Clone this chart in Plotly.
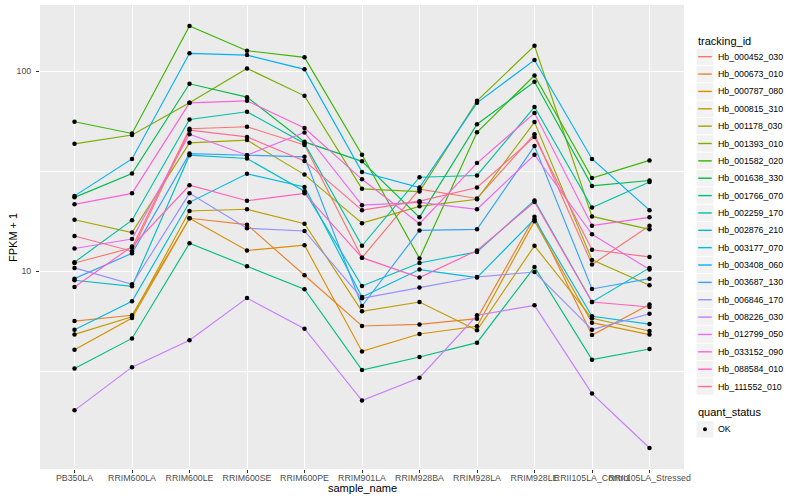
import plotly.graph_objects as go

samples = ["PB350LA", "RRIM600LA", "RRIM600LE", "RRIM600SE", "RRIM600PE", "RRIM901LA",
           "RRIM928BA", "RRIM928LA", "RRIM928LE", "RRII105LA_Control", "RRII105LA_Stressed"]

tracking_ids = ["Hb_000452_030", "Hb_000673_010", "Hb_000787_080", "Hb_000815_310",
                "Hb_001178_030", "Hb_001393_010", "Hb_001582_020", "Hb_001638_330",
                "Hb_001766_070", "Hb_002259_170", "Hb_002876_210", "Hb_003177_070",
                "Hb_003408_060", "Hb_003687_130", "Hb_006846_170", "Hb_008226_030",
                "Hb_012799_050", "Hb_033152_090", "Hb_088584_010", "Hb_111552_010"]

colors = ["#F8766D", "#EA8331", "#D89000", "#C09B00", "#A3A500", "#7CAE00", "#39B600",
          "#00BB4E", "#00BF7D", "#00C1A3", "#00BFC4", "#00BAE0", "#00B0F6", "#35A2FF",
          "#9590FF", "#C77CFF", "#E76BF3", "#FA62DB", "#FF62BC", "#FF6C91"]

# FPKM + 1 values, one list per tracking_id (order of samples)
Hb_000452_030 = [11.0, 13.1, 51.5, 52.7, 42.7, 11.7, 25.7, 23.1, 48.4, 10.8, 16.9]
Hb_000673_010 = [5.64, 6.03, 18.4, 17.1, 9.55, 5.33, 5.43, 5.80, 18.7, 4.80, 6.82]
Hb_000787_080 = [4.06, 5.84, 18.4, 12.7, 13.5, 3.98, 4.86, 5.31, 17.8, 5.54, 4.83]
Hb_000815_310 = [4.84, 5.93, 20.0, 20.4, 17.3, 6.31, 7.02, 5.07, 13.4, 5.82, 5.03]
Hb_001178_030 = [18.1, 15.6, 43.8, 45.2, 30.4, 17.4, 21.1, 22.9, 55.6, 11.4, 8.51]
Hb_001393_010 = [43.3, 47.9, 69.4, 103.1, 75.2, 25.8, 25.0, 71.0, 133.8, 18.8, 16.2]
Hb_001582_020 = [55.8, 48.8, 167.9, 126.4, 117.1, 38.2, 11.6, 49.5, 95.0, 29.2, 35.8]
Hb_001638_330 = [23.4, 30.8, 86.4, 74.1, 44.3, 35.4, 18.6, 54.3, 88.4, 26.7, 28.4]
Hb_001766_070 = [3.27, 4.62, 13.8, 10.6, 8.13, 3.21, 3.73, 4.40, 10.5, 3.62, 4.09]
Hb_002259_170 = [11.1, 18.0, 57.3, 62.6, 43.5, 13.4, 29.5, 30.1, 66.1, 20.8, 27.9]
Hb_002876_210 = [9.02, 8.41, 38.0, 36.6, 25.1, 8.44, 11.0, 12.5, 22.6, 7.02, 10.4]
Hb_003177_070 = [5.11, 7.08, 22.1, 30.7, 26.4, 7.44, 10.2, 9.30, 18.2, 5.96, 5.45]
Hb_003408_060 = [23.8, 36.4, 122.6, 120.2, 102.0, 31.3, 26.2, 69.4, 113.5, 36.4, 20.2]
Hb_003687_130 = [9.19, 12.3, 38.7, 38.0, 37.3, 6.71, 16.0, 16.2, 42.2, 8.16, 9.19]
Hb_006846_170 = [10.4, 8.61, 24.5, 16.4, 15.9, 7.33, 8.29, 9.37, 9.92, 5.11, 6.14]
Hb_008226_030 = [2.02, 3.32, 4.52, 7.35, 5.17, 2.26, 2.94, 6.03, 6.76, 2.45, 1.31]
Hb_012799_050 = [13.0, 14.5, 48.4, 38.0, 49.4, 21.4, 22.1, 20.4, 38.2, 15.3, 10.2]
Hb_033152_090 = [21.6, 24.5, 69.4, 71.0, 51.9, 28.8, 17.3, 34.7, 61.7, 16.9, 18.6]
Hb_088584_010 = [8.35, 13.3, 26.9, 22.5, 24.5, 11.7, 9.30, 12.7, 22.2, 7.02, 6.63]
Hb_111552_010 = [15.0, 12.6, 50.7, 46.9, 35.6, 20.2, 22.4, 26.2, 46.9, 12.8, 11.8]

series = [Hb_000452_030, Hb_000673_010, Hb_000787_080, Hb_000815_310, Hb_001178_030,
          Hb_001393_010, Hb_001582_020, Hb_001638_330, Hb_001766_070, Hb_002259_170,
          Hb_002876_210, Hb_003177_070, Hb_003408_060, Hb_003687_130, Hb_006846_170,
          Hb_008226_030, Hb_012799_050, Hb_033152_090, Hb_088584_010, Hb_111552_010]

y_tick_vals = [10, 100]
y_tick_text = ["10", "100"]
quant_status = ["OK"]

FONT = "Liberation Sans, Arial, Helvetica, sans-serif"

# plot panel in page pixels
PL, PR, PT, PB = 40, 684, 5, 469
W, H = 800, 500


def px_x(p):
    return (p - PL) / (PR - PL)


def px_y(p):
    return (PB - p) / (PB - PT)


fig = go.Figure()

for name, col, vals in zip(tracking_ids, colors, series):
    fig.add_trace(go.Scatter(x=samples, y=vals, mode="lines", name=name,
                             line=dict(color=col, width=1.15), showlegend=False,
                             hoverinfo="x+y+name"))

all_x, all_y = [], []
for vals in series:
    all_x += samples
    all_y += vals
fig.add_trace(go.Scatter(x=all_x, y=all_y, mode="markers", name=quant_status[0],
                         marker=dict(color="black", size=4.5, symbol="circle"),
                         showlegend=False, hoverinfo="skip"))

shapes = []
annotations = []

# legend: tracking_id
annotations.append(dict(text="tracking_id", x=px_x(696), y=px_y(40.7), xref="paper", yref="paper",
                        xanchor="left", yanchor="middle", showarrow=False,
                        font=dict(size=11, color="black", family=FONT)))
step = 17.36
for i, (name, col) in enumerate(zip(tracking_ids, colors)):
    yc = 56.7 + step * i
    shapes.append(dict(type="rect", xref="paper", yref="paper",
                       x0=px_x(696.5), x1=px_x(713.5), y0=px_y(yc + 8.2), y1=px_y(yc - 8.2),
                       fillcolor="#F2F2F2", line=dict(width=0), layer="below"))
    shapes.append(dict(type="line", xref="paper", yref="paper",
                       x0=px_x(698.2), x1=px_x(711.8), y0=px_y(yc), y1=px_y(yc),
                       line=dict(color=col, width=1.4)))
    annotations.append(dict(text=name, x=px_x(715.5), y=px_y(yc), xref="paper", yref="paper",
                            xanchor="left", yanchor="middle", showarrow=False,
                            font=dict(size=8.8, color="black", family=FONT)))

# legend: quant_status
annotations.append(dict(text="quant_status", x=px_x(696), y=px_y(412.3), xref="paper", yref="paper",
                        xanchor="left", yanchor="middle", showarrow=False,
                        font=dict(size=11, color="black", family=FONT)))
yc = 429.3
shapes.append(dict(type="rect", xref="paper", yref="paper",
                   x0=px_x(696.5), x1=px_x(713.5), y0=px_y(yc + 8.2), y1=px_y(yc - 8.2),
                   fillcolor="#F2F2F2", line=dict(width=0), layer="below"))
shapes.append(dict(type="circle", xref="paper", yref="paper",
                   x0=px_x(703.0), x1=px_x(707.0), y0=px_y(yc + 2.0), y1=px_y(yc - 2.0),
                   fillcolor="black", line=dict(width=0)))
annotations.append(dict(text=quant_status[0], x=px_x(715.5), y=px_y(yc), xref="paper", yref="paper",
                        xanchor="left", yanchor="middle", showarrow=False,
                        font=dict(size=8.8, color="black", family=FONT)))

# axis titles
annotations.append(dict(text="sample_name", x=0.5, y=px_y(488), xref="paper", yref="paper",
                        xanchor="center", yanchor="middle", showarrow=False,
                        font=dict(size=11, color="black", family=FONT)))
annotations.append(dict(text="FPKM + 1", x=px_x(13), y=0.5, xref="paper", yref="paper",
                        xanchor="center", yanchor="middle", showarrow=False, textangle=-90,
                        font=dict(size=11, color="black", family=FONT)))

fig.update_layout(
    width=W, height=H,
    margin=dict(l=PL, r=W - PR, t=PT, b=H - PB, pad=0),
    paper_bgcolor="white", plot_bgcolor="#EBEBEB",
    font=dict(family=FONT, size=9, color="#4D4D4D"),
    showlegend=False,
    shapes=shapes, annotations=annotations,
)

fig.update_xaxes(type="category", categoryorder="array", categoryarray=samples,
                 range=[-0.6, len(samples) - 0.4],
                 showgrid=True, gridcolor="white", gridwidth=1.4,
                 ticks="outside", ticklen=3, tickwidth=1, tickcolor="#333333",
                 tickangle=0, ticklabelstandoff=-3,
                 tickfont=dict(size=8.8, color="#4D4D4D", family=FONT),
                 zeroline=False, showline=False)

fig.update_yaxes(type="log", range=[0.0125, 2.33],
                 tickmode="array", tickvals=y_tick_vals, ticktext=y_tick_text,
                 showgrid=True, gridcolor="white", gridwidth=1.4,
                 minor=dict(tickmode="array", tickvals=[10 ** 0.5, 10 ** 1.5], showgrid=True,
                            gridcolor="white", gridwidth=0.7, ticks=""),
                 ticks="outside", ticklen=3, tickwidth=1, tickcolor="#333333",
                 ticklabelstandoff=3,
                 tickfont=dict(size=8.8, color="#4D4D4D", family=FONT),
                 zeroline=False, showline=False)

fig.write_html("out.html", config={"displayModeBar": False},
               post_script="document.body.style.margin='0';document.body.style.overflow='hidden';")
